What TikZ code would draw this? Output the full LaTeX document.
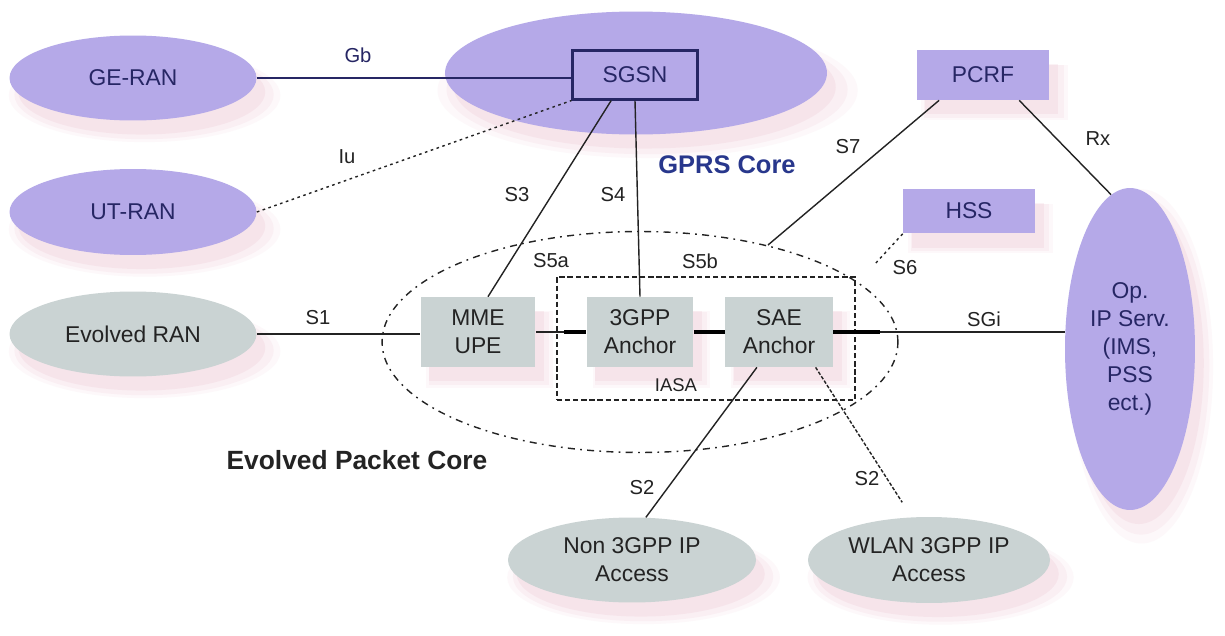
\documentclass[tikz,border=0pt]{standalone}
\usepackage{fontspec}
\setmainfont{Liberation Sans}
\usetikzlibrary{shapes.geometric,shadows,calc}
\definecolor{lav}{RGB}{181,169,232}
\definecolor{gry}{RGB}{202,211,211}
\definecolor{navy}{RGB}{38,38,100}
\definecolor{ink}{RGB}{35,35,35}
\definecolor{gprsblue}{RGB}{40,55,140}
\definecolor{shad}{RGB}{225,150,175}
\newcommand{\nfont}{\fontsize{13}{16}\selectfont}
\newcommand{\lfont}{\fontsize{11.5}{13}\selectfont}
\begin{document}
\begin{tikzpicture}[x=0.02cm,y=-0.02cm,
  sh/.style={
    general shadow={shadow xshift=6pt,shadow yshift=-9pt,shadow scale=1.10,fill=shad,opacity=0.06},
    general shadow={shadow xshift=6pt,shadow yshift=-9pt,shadow scale=1.05,fill=shad,opacity=0.09},
    general shadow={shadow xshift=5pt,shadow yshift=-8pt,shadow scale=1.00,fill=shad,opacity=0.12}},
  purpel/.style={ellipse,fill=lav,text=navy,font=\nfont,inner sep=0pt,align=center,sh},
  grayel/.style={ellipse,fill=gry,text=ink,font=\nfont,inner sep=0pt,align=center,sh},
  purpbox/.style={rectangle,fill=lav,text=navy,font=\nfont,inner sep=0pt,sh},
  graybox/.style={rectangle,fill=gry,text=ink,font=\nfont,inner sep=0pt,align=center,sh},
  lbl/.style={font=\lfont,text=ink,inner sep=0pt},
  ln/.style={draw=ink,line width=0.8pt},
  thk/.style={draw=black,line width=2.4pt},
  dotln/.style={draw=ink,line width=0.8pt,dash pattern=on 1.5pt off 2pt},
  epcline/.style={draw=ink,line width=0.8pt,dash pattern=on 4pt off 3pt on 1pt off 3pt}
]
\useasboundingbox (0,0) rectangle (1225,636);
\fill[white] (0,0) rectangle (1225,636);

% ellipses and boxes
\node[purpel,minimum width=4.94cm,minimum height=1.7cm] (geran) at (133,78) {GE-RAN};
\node[purpel,minimum width=4.94cm,minimum height=1.72cm] (utran) at (133,212) {UT-RAN};
\node[grayel,minimum width=4.94cm,minimum height=1.7cm] (eran) at (133,334) {Evolved RAN};
\node[purpel,minimum width=7.64cm,minimum height=2.46cm] (gprs) at (636,73) {};
\node[rectangle,fill=lav,draw=navy,line width=1.2pt,text=navy,font=\nfont,inner sep=0pt,
      minimum width=2.5cm,minimum height=0.98cm] (sgsn) at (635,75) {SGSN};
\node[purpbox,minimum width=2.66cm,minimum height=1.0cm] (pcrf) at (983,75) {PCRF};
\node[purpbox,minimum width=2.64cm,minimum height=0.9cm] (hss) at (969,211) {HSS};
\node[purpel,minimum width=2.6cm,minimum height=6.44cm] (op) at (1130,349)
  {\fontsize{13}{18.4}\selectfont Op.\\IP Serv.\\(IMS,\\PSS\\ect.)};
\node[graybox,minimum width=2.3cm,minimum height=1.4cm] (mme) at (478,332) {MME\\UPE};
\node[graybox,minimum width=2.14cm,minimum height=1.4cm] (gpp) at (640,332) {3GPP\\Anchor};
\node[graybox,minimum width=2.16cm,minimum height=1.4cm] (sae) at (779,332) {SAE\\Anchor};
\node[grayel,minimum width=4.96cm,minimum height=1.7cm] (non) at (632,560) {Non 3GPP IP\\Access};
\node[grayel,minimum width=4.84cm,minimum height=1.72cm] (wlan) at (929,560) {WLAN 3GPP IP\\Access};

% evolved packet core and IASA
\node[ellipse,epcline,minimum width=10.32cm,minimum height=4.42cm,inner sep=0pt] (epc) at (640,342) {};
\node[rectangle,draw=ink,line width=0.8pt,dash pattern=on 3pt off 1.6pt,minimum width=5.96cm,
      minimum height=2.46cm,inner sep=0pt] (iasa) at (706,338.5) {};

\coordinate (s7end) at (768,245);
\coordinate (s6end) at (874,265);

% connectors
\draw[ln,draw=navy,line width=1.1pt] (geran.east) -- (geran.east -| sgsn.west);
\draw[dotln] (utran.east) -- (sgsn.south west);
\draw[ln] (sgsn.227) -- ($(mme.north)+(10,0)$);
\draw[ln] (sgsn.south) -- (gpp.north);
\draw[ln] (pcrf.210) -- (s7end);
\draw[ln] (pcrf.-35) -- (op.97);
\draw[dotln] (hss.south west) -- (s6end);
\draw[ln] (eran.east) -- (eran.east -| mme.west);
\draw[ln] (mme.east) -- (mme.east -| gpp.west);
\draw[thk] ($(gpp.west)+(-22,0)$) -- (gpp.west);
\draw[thk] (gpp.east) -- (sae.west);
\draw[ln] (sae.east) -- (sae.east -| op.west);
\draw[thk] (sae.east) -- ($(sae.east)+(47,0)$);
\draw[ln] (sae.238) -- (non.72);
\draw[ln,dash pattern=on 2pt off 1pt,shorten >=10pt] (sae.-44) -- (wlan.112);

% labels
\node[lbl,text=navy] (lgb) at (358,55) {Gb};
\node[lbl] (liu) at (347,157) {Iu};
\node[lbl] (ls3) at (517,195) {S3};
\node[lbl] (ls4) at (613,195) {S4};
\node[font=\bfseries\fontsize{14.5}{16}\selectfont,text=gprsblue,inner sep=0pt] (lgprs) at (727,165) {GPRS Core};
\node[lbl] (ls7) at (848,147) {S7};
\node[lbl] (lrx) at (1098,139) {Rx};
\node[lbl] (ls6) at (905,268) {S6};
\node[lbl] (ls5a) at (551,261) {S5a};
\node[lbl] (ls5b) at (700,261) {S5b};
\node[lbl] (ls1) at (318,318) {S1};
\node[lbl] (lsgi) at (984,319) {SGi};
\node[lbl,font=\fontsize{10.5}{12}\selectfont] (liasa) at (676,385) {IASA};
\node[font=\bfseries\fontsize{15}{17}\selectfont,text=ink,inner sep=0pt] (lepc) at (357,460) {Evolved Packet Core};
\node[lbl] (ls2a) at (642,488) {S2};
\node[lbl] (ls2b) at (867,479) {S2};
\end{tikzpicture}
\end{document}
